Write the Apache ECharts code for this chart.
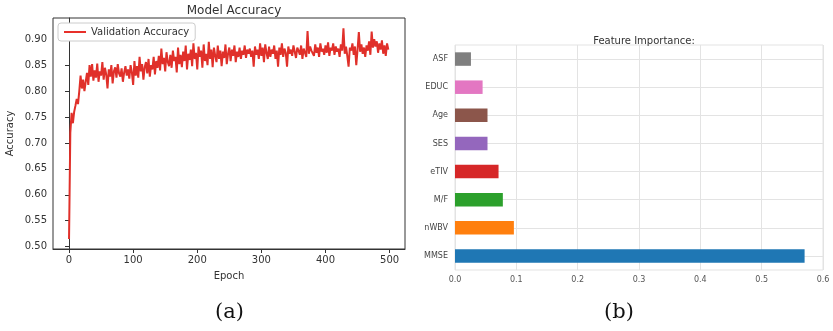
<!DOCTYPE html>
<html>
<head>
<meta charset="utf-8">
<script src="https://cdn.jsdelivr.net/npm/echarts@6/dist/echarts.min.js"></script>
<style>html,body{margin:0;padding:0;background:#fff}#c{width:833px;height:331px}</style>
</head>
<body>
<div id="c"></div>
<script>
// ---- Panel (a): validation accuracy, one value every EPOCH_STEP epochs starting at 0 ----
const EPOCH_STEP = 2;
const accuracy = [
0.515,0.720,0.758,0.738,0.760,0.772,0.785,0.775,0.800,0.830,
0.805,0.822,0.800,0.818,0.835,0.812,0.850,0.828,0.852,0.820,
0.840,0.826,0.853,0.818,0.838,0.830,0.856,0.822,0.845,0.832,
0.805,0.842,0.828,0.850,0.815,0.838,0.846,0.826,0.852,0.834,
0.828,0.844,0.818,0.836,0.848,0.830,0.842,0.824,0.850,0.836,
0.812,0.858,0.830,0.848,0.826,0.866,0.838,0.852,0.822,0.846,
0.856,0.834,0.862,0.828,0.850,0.842,0.866,0.832,0.858,0.845,
0.868,0.840,0.882,0.852,0.864,0.838,0.875,0.856,0.848,0.870,
0.845,0.878,0.858,0.866,0.836,0.884,0.852,0.870,0.846,0.876,
0.858,0.888,0.842,0.872,0.860,0.880,0.848,0.892,0.862,0.874,
0.842,0.886,0.866,0.878,0.845,0.890,0.858,0.872,0.850,0.895,
0.862,0.880,0.846,0.884,0.868,0.856,0.888,0.862,0.878,0.848,
0.876,0.864,0.890,0.852,0.872,0.884,0.858,0.880,0.868,0.888,
0.856,0.876,0.866,0.884,0.862,0.878,0.870,0.888,0.864,0.880,
0.872,0.882,0.866,0.878,0.847,0.886,0.870,0.880,0.862,0.892,
0.868,0.884,0.856,0.890,0.874,0.862,0.886,0.866,0.880,0.872,
0.888,0.862,0.878,0.847,0.884,0.870,0.892,0.866,0.882,0.874,
0.847,0.886,0.872,0.880,0.868,0.888,0.876,0.864,0.884,0.878,
0.870,0.888,0.862,0.882,0.874,0.866,0.916,0.872,0.886,0.878,
0.880,0.868,0.890,0.874,0.884,0.866,0.892,0.876,0.882,0.870,
0.888,0.874,0.894,0.868,0.884,0.878,0.892,0.870,0.886,0.876,
0.882,0.866,0.890,0.878,0.921,0.872,0.886,0.868,0.847,0.884,
0.878,0.892,0.870,0.886,0.850,0.880,0.914,0.876,0.890,0.872,
0.884,0.866,0.888,0.878,0.896,0.870,0.915,0.884,0.900,0.886,
0.896,0.874,0.892,0.880,0.898,0.872,0.888,0.868,0.892,0.880
];
const accTicks = [0.50,0.55,0.60,0.65,0.70,0.75,0.80,0.85,0.90];
const epochTicks = [0,100,200,300,400,500];

// ---- Panel (b): feature importance (top to bottom) ----
const features = ['ASF','EDUC','Age','SES','eTIV','M/F','nWBV','MMSE'];
const importance = [0.026,0.045,0.053,0.053,0.071,0.078,0.096,0.570];
const featureColors = ['#7f7f7f','#e377c2','#8c564b','#9467bd','#d62728','#2ca02c','#ff7f0e','#1f77b4'];

const accData = accuracy.map((v, i) => [i * EPOCH_STEP, v]);
const FONT = 'DejaVu Sans';

const chart = echarts.init(document.getElementById('c'), null, {renderer: 'canvas'});
chart.setOption({
  animation: false,
  backgroundColor: '#fff',
  textStyle: {fontFamily: FONT},
  title: [
    {text: 'Model Accuracy', left: 229, top: 0, textAlign: 'center',
     textStyle: {fontFamily: FONT, fontSize: 12, fontWeight: 'normal', color: '#333'}},
    {text: 'Feature Importance:', left: 639, top: 31, textAlign: 'center',
     textStyle: {fontFamily: FONT, fontSize: 10, fontWeight: 'normal', color: '#333'}}
  ],
  graphic: [
    {type: 'text', left: 215, top: 302, style: {text: '(a)', fontFamily: 'DejaVu Serif', fontSize: 21, fill: '#111'}},
    {type: 'text', left: 604, top: 302, style: {text: '(b)', fontFamily: 'DejaVu Serif', fontSize: 21, fill: '#111'}}
  ],
  legend: {
    show: true, left: 58, top: 23, padding: [4, 6], itemGap: 5,
    borderColor: '#cccccc', borderWidth: 1, borderRadius: 3, backgroundColor: '#fff',
    itemWidth: 22, itemHeight: 2, icon: 'rect',
    textStyle: {fontFamily: FONT, fontSize: 10, color: '#333'},
    data: ['Validation Accuracy']
  },
  grid: [
    {left: 53, right: 428, top: 18, bottom: 82, show: true, borderColor: '#333', borderWidth: 1},
    {left: 455, right: 10, top: 45, bottom: 61, show: true, borderColor: '#e3e3e3', borderWidth: 1}
  ],
  xAxis: [
    {gridIndex: 0, type: 'value', min: -25, max: 524,
     name: 'Epoch', nameLocation: 'middle', nameGap: 22,
     nameTextStyle: {fontFamily: FONT, fontSize: 10, color: '#333'},
     axisLine: {show: true, lineStyle: {color: '#333'}},
     axisTick: {show: true, length: 4, lineStyle: {color: '#333'}, customValues: epochTicks},
     axisLabel: {fontFamily: FONT, fontSize: 10, color: '#333', margin: 6, customValues: epochTicks, formatter: v => String(v)},
     splitLine: {show: false}},
    {gridIndex: 1, type: 'value', min: 0, max: 0.6, interval: 0.1,
     axisLine: {show: false}, axisTick: {show: false},
     axisLabel: {fontFamily: FONT, fontSize: 8, color: '#555', margin: 6, formatter: v => v.toFixed(1)},
     splitLine: {show: true, lineStyle: {color: '#e3e3e3', width: 1}}}
  ],
  yAxis: [
    {gridIndex: 0, type: 'value', min: 0.4955, max: 0.941,
     name: 'Accuracy', nameLocation: 'middle', nameGap: 38, nameRotate: 90,
     nameTextStyle: {fontFamily: FONT, fontSize: 10, color: '#333'},
     axisLine: {show: true, lineStyle: {color: '#333'}},
     axisTick: {show: true, length: 4, lineStyle: {color: '#333'}, customValues: accTicks},
     axisLabel: {fontFamily: FONT, fontSize: 10, color: '#333', margin: 6, customValues: accTicks, formatter: v => v.toFixed(2)},
     splitLine: {show: false}},
    {gridIndex: 1, type: 'category', data: features, inverse: true,
     axisLine: {show: false}, axisTick: {show: false},
     axisLabel: {fontFamily: FONT, fontSize: 8, color: '#444', margin: 7},
     splitLine: {show: false}}
  ],
  series: [
    {type: 'line', name: 'Validation Accuracy', xAxisIndex: 0, yAxisIndex: 0,
     data: accData, showSymbol: false, symbol: 'none',
     lineStyle: {color: '#e0302a', width: 2}, itemStyle: {color: '#e8302a'}},
    {type: 'line', xAxisIndex: 1, yAxisIndex: 1, data: [], z: 1, silent: true,
     markLine: {silent: true, symbol: 'none', z: 1, label: {show: false},
       lineStyle: {color: '#e3e3e3', width: 1, type: 'solid'},
       data: features.map(f => ({yAxis: f}))}},
    {type: 'bar', xAxisIndex: 1, yAxisIndex: 1, z: 3, barWidth: '48%',
     data: importance.map((v, i) => ({value: v, itemStyle: {color: featureColors[i]}}))}
  ]
});
</script>
</body>
</html>
